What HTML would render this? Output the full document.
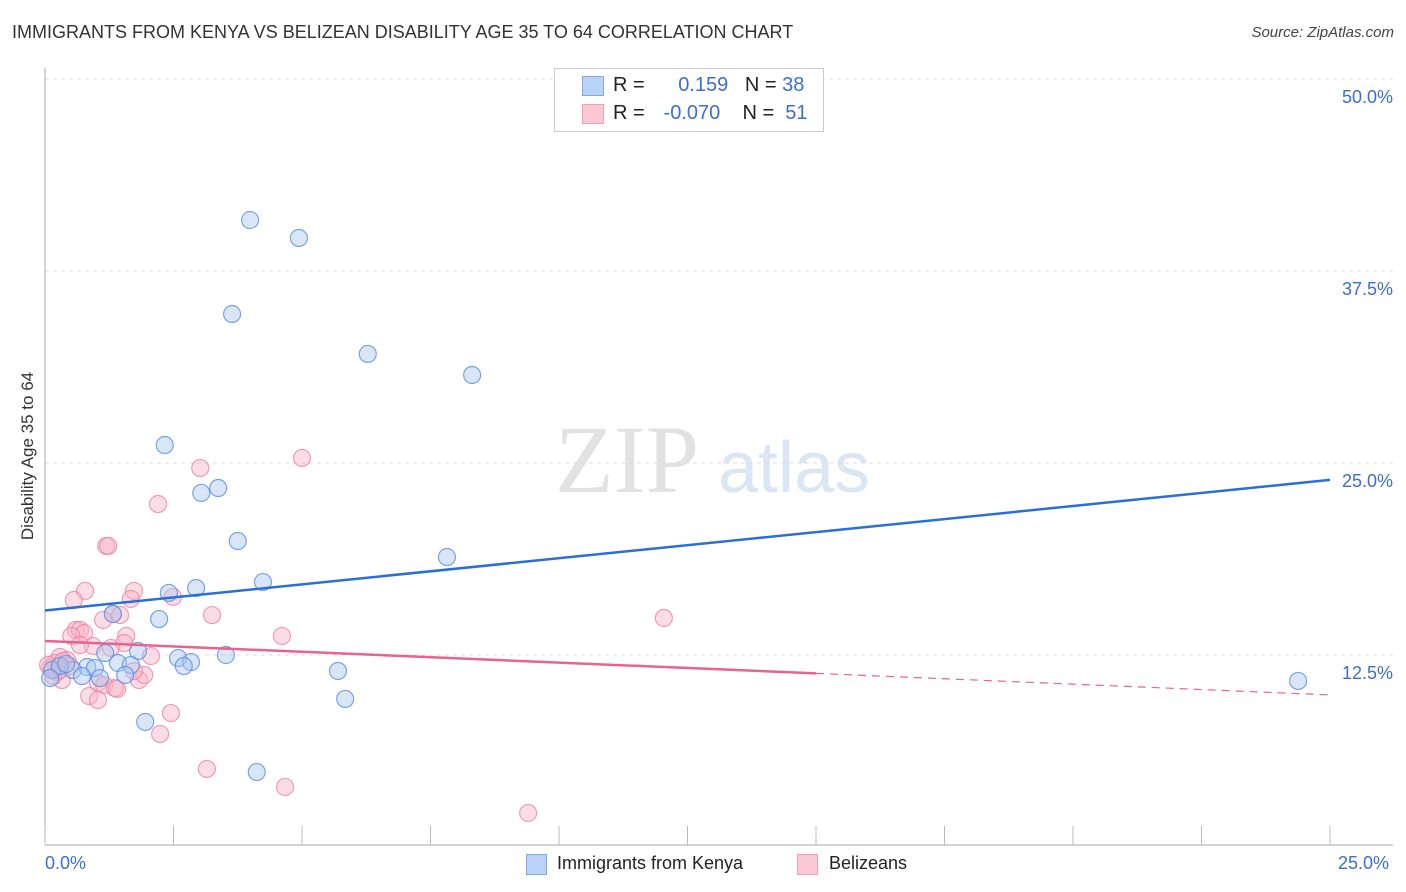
<!DOCTYPE html>
<html><head><meta charset="utf-8"><style>
body{margin:0;background:#fff;font-family:"Liberation Sans",sans-serif;}
#wrap{position:relative;width:1406px;height:892px;overflow:hidden;}
.t{position:absolute;white-space:nowrap;}
</style></head><body>
<div id="wrap">
<div class="t" style="left:12px;top:22px;font-size:18px;color:#333;">IMMIGRANTS FROM KENYA VS BELIZEAN DISABILITY AGE 35 TO 64 CORRELATION CHART</div>
<div class="t" style="right:12px;top:24px;font-size:15px;color:#444;font-style:italic;">Source: ZipAtlas.com</div>
<div class="t" style="left:28px;top:456px;font-size:17px;color:#333;transform:translate(-50%,-50%) rotate(-90deg);">Disability Age 35 to 64</div>
<svg id="plot" width="1406" height="892" style="position:absolute;left:0;top:0;">
<text x="555" y="492" font-family="Liberation Serif,serif" font-size="96" fill="#e2e2e2">ZIP</text>
<text x="718" y="492" font-family="Liberation Sans,sans-serif" font-size="72" fill="#dbe6f5">atlas</text>
</svg>
<div style="position:absolute;left:554px;top:68px;width:268px;height:62px;border:1px solid #ccc;background:#fff;">
<div style="position:absolute;left:27px;top:7px;width:20px;height:18px;background:#b8d3f5;border:1px solid #7fa9e0;"></div>
<div style="position:absolute;left:27px;top:35px;width:20px;height:18px;background:#fcc8d6;border:1px solid #f0a0b8;"></div>
<div class="t" style="left:58px;top:5px;font-size:20px;color:#222;">R = <span style="color:#3a6fd0;display:inline-block;width:78px;text-align:right;">0.159</span>&nbsp;&nbsp; N = <span style="color:#3a6fd0">38</span></div>
<div class="t" style="left:58px;top:33px;font-size:20px;color:#222;">R = <span style="color:#3a6fd0;display:inline-block;width:70px;text-align:right;">-0.070</span>&nbsp;&nbsp;&nbsp; N = <span style="color:#3a6fd0">&nbsp;51</span></div>
</div>
<div class="t" style="left:45px;top:853px;font-size:18px;color:#3a6fd0;">0.0%</div>
<div class="t" style="left:1338px;top:853px;font-size:18px;color:#3a6fd0;">25.0%</div>
<div style="position:absolute;left:526px;top:854px;width:19px;height:19px;background:#b8d3f5;border:1px solid #7fa9e0;"></div>
<div class="t" style="left:557px;top:853px;font-size:18px;color:#222;">Immigrants from Kenya</div>
<div style="position:absolute;left:797px;top:854px;width:19px;height:19px;background:#fcc8d6;border:1px solid #f0a0b8;"></div>
<div class="t" style="left:829px;top:853px;font-size:18px;color:#222;">Belizeans</div>
</div>
<script>
const yTicks=[12.5,25,37.5,50];
const yTickLabels=["12.5%","25.0%","37.5%","50.0%"];
const xTicks=[0,2.5,5,7.5,10,12.5,15,17.5,20,22.5,25];
const kenyaX=[3.99,4.94,3.64,6.28,8.31,2.33,3.04,3.37,3.75,7.82,4.24,2.94,2.41,1.32,2.22,1.81,1.17,2.59,2.84,2.70,3.52,0.82,0.97,1.42,1.67,0.54,0.72,1.56,1.07,5.70,0.14,0.29,0.41,1.95,5.84,4.12,24.38,0.10];
const kenyaY=[40.82,39.65,34.70,32.10,30.73,26.17,23.05,23.37,19.92,18.88,17.25,16.86,16.54,15.17,14.84,12.76,12.63,12.30,12.04,11.78,12.50,11.72,11.65,11.98,11.85,11.52,11.13,11.20,11.00,11.46,11.52,11.78,11.91,8.14,9.64,4.88,10.81,11.00];
const belizeX=[1.19,1.23,2.20,3.02,5.00,0.78,1.73,0.56,1.67,2.49,3.25,1.32,1.46,1.13,0.60,0.68,0.76,0.51,1.58,4.61,12.04,0.93,1.54,0.68,1.28,2.06,0.29,0.43,0.19,0.35,0.10,0.23,0.33,1.03,1.15,1.36,1.40,1.83,1.93,1.73,0.86,1.03,2.45,2.24,3.15,4.67,9.40,0.16,0.49,0.06,0.29];
const belizeY=[19.60,19.60,22.33,24.67,25.33,16.67,16.67,16.08,16.15,16.28,15.10,15.17,15.10,14.78,14.13,14.13,13.93,13.74,13.74,13.74,14.91,13.09,13.28,13.15,12.96,12.43,12.37,12.17,11.98,12.11,11.65,11.39,10.87,10.68,10.55,10.35,10.29,10.87,11.20,11.46,9.83,9.57,8.72,7.36,5.08,3.91,2.21,11.13,11.78,11.85,11.52];
const kenyaTrend=[15.4,23.9];
const belizeTrend=[13.41,9.90];
const belizeSolidEnd=15;

const X0=45,X1=1330,Y0=847,PXPCT=15.36;
const sx=v=>X0+(X1-X0)*v/25;
const sy=v=>Y0-v*PXPCT;
const svg=document.getElementById('plot');
const NS='http://www.w3.org/2000/svg';
function mk(t,a){const e=document.createElementNS(NS,t);for(const k in a)e.setAttribute(k,a[k]);svg.appendChild(e);return e;}
yTicks.forEach((v,i)=>{
 const g=mk('line',{x1:45,x2:1393,y1:sy(v),y2:sy(v),stroke:'#ddd','stroke-dasharray':'4,4'});
 
 
 const t=mk('text',{x:1393,y:sy(v)+24,'text-anchor':'end','font-size':18,fill:'#3a6fd0','font-family':'Liberation Sans,sans-serif'});
 t.textContent=yTickLabels[i];
 
 
});
const ax=mk('line',{x1:45,x2:45,y1:68,y2:845,stroke:'#aaa'});


const bx=mk('line',{x1:45,x2:1393,y1:845,y2:845,stroke:'#aaa'});


xTicks.forEach(v=>{
 const l=mk('line',{x1:sx(v),x2:sx(v),y1:826,y2:845,stroke:'#bbb'});
 
 
});
function pts(xs,ys,fill,stroke,name){
 xs.forEach((x,i)=>{
  const c=mk('circle',{cx:sx(x),cy:sy(ys[i]),r:8.5,fill:fill,'fill-opacity':0.45,stroke:stroke,'stroke-opacity':0.8,'stroke-width':1.2});
  
  
 });
}
pts(belizeX,belizeY,'#f8b4c8','#ec86a6','belizean-point');
pts(kenyaX,kenyaY,'#a9c8f0','#5a8fe0','kenya-point');
const kl=mk('line',{x1:sx(0),y1:sy(kenyaTrend[0]),x2:sx(25),y2:sy(kenyaTrend[1]),stroke:'#2a6fd6','stroke-width':2.5});


const bmid=belizeTrend[0]+(belizeTrend[1]-belizeTrend[0])*belizeSolidEnd/25;
const bl=mk('line',{x1:sx(0),y1:sy(belizeTrend[0]),x2:sx(belizeSolidEnd),y2:sy(bmid),stroke:'#e8638f','stroke-width':2.5});


const bd=mk('line',{x1:sx(belizeSolidEnd),y1:sy(bmid),x2:sx(25),y2:sy(belizeTrend[1]),stroke:'#e8638f','stroke-width':1.2,'stroke-dasharray':'8,6'});


</script>
</body></html>
